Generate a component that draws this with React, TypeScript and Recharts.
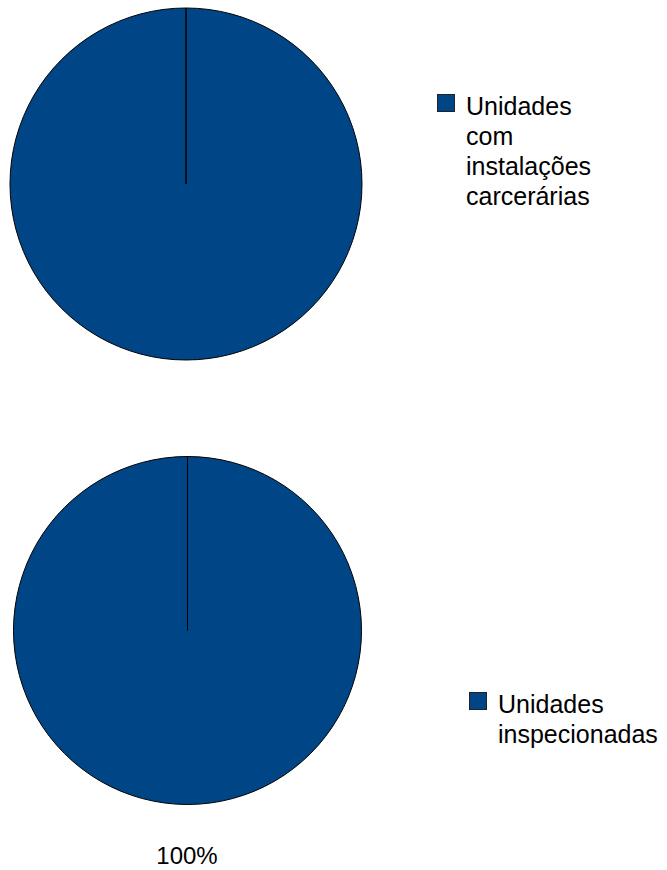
import { PieChart, Pie, Cell } from 'recharts'

// top pie: facilities with prison installations
const topSlices = [{ name: 'Unidades com instalações carcerárias', value: 100 }]
const topLegendLines = ['Unidades', 'com', 'instalações', 'carcerárias']

// bottom pie: inspected units
const bottomSlices = [{ name: 'Unidades inspecionadas', value: 100 }]
const bottomLegendLines = ['Unidades', 'inspecionadas']
const bottomLabel = '100%'

const BLUE = '#004586'
const font = '"Liberation Sans", Arial, sans-serif'

function LegendBox({ x, y, lines }: { x: number; y: number; lines: string[] }) {
  return (
    <div style={{ position: 'absolute', left: x, top: y, fontSize: 25, lineHeight: '30px' }}>
      <div
        style={{
          position: 'absolute',
          left: 0,
          top: 3,
          width: 18,
          height: 18,
          background: BLUE,
          border: '1px solid #222',
          boxSizing: 'border-box',
        }}
      />
      <div style={{ position: 'absolute', left: 29, top: 0, whiteSpace: 'nowrap' }}>
        {lines.map((l) => (
          <div key={l}>{l}</div>
        ))}
      </div>
    </div>
  )
}

export default function App() {
  return (
    <div
      style={{
        position: 'absolute',
        left: 0,
        top: 0,
        width: 667,
        height: 870,
        background: '#fff',
        fontFamily: font,
        color: '#000',
        overflow: 'hidden',
      }}
    >
      <PieChart width={667} height={870} margin={{ top: 0, right: 0, bottom: 0, left: 0 }}>
        <Pie
          data={topSlices}
          dataKey="value"
          cx={186}
          cy={184}
          outerRadius={176}
          startAngle={90}
          endAngle={-270}
          stroke="#000"
          strokeWidth={1}
          isAnimationActive={false}
        >
          {topSlices.map((s) => (
            <Cell key={s.name} fill={BLUE} />
          ))}
        </Pie>
        <Pie
          data={bottomSlices}
          dataKey="value"
          cx={187.5}
          cy={630.5}
          outerRadius={174}
          startAngle={90}
          endAngle={-270}
          stroke="#000"
          strokeWidth={1}
          isAnimationActive={false}
        >
          {bottomSlices.map((s) => (
            <Cell key={s.name} fill={BLUE} />
          ))}
        </Pie>
      </PieChart>
      <LegendBox x={437} y={91} lines={topLegendLines} />
      <LegendBox x={469} y={689} lines={bottomLegendLines} />
      <div
        style={{
          position: 'absolute',
          left: 137,
          width: 100,
          top: 846,
          fontSize: 24,
          lineHeight: '20px',
          textAlign: 'center',
        }}
      >
        {bottomLabel}
      </div>
    </div>
  )
}
